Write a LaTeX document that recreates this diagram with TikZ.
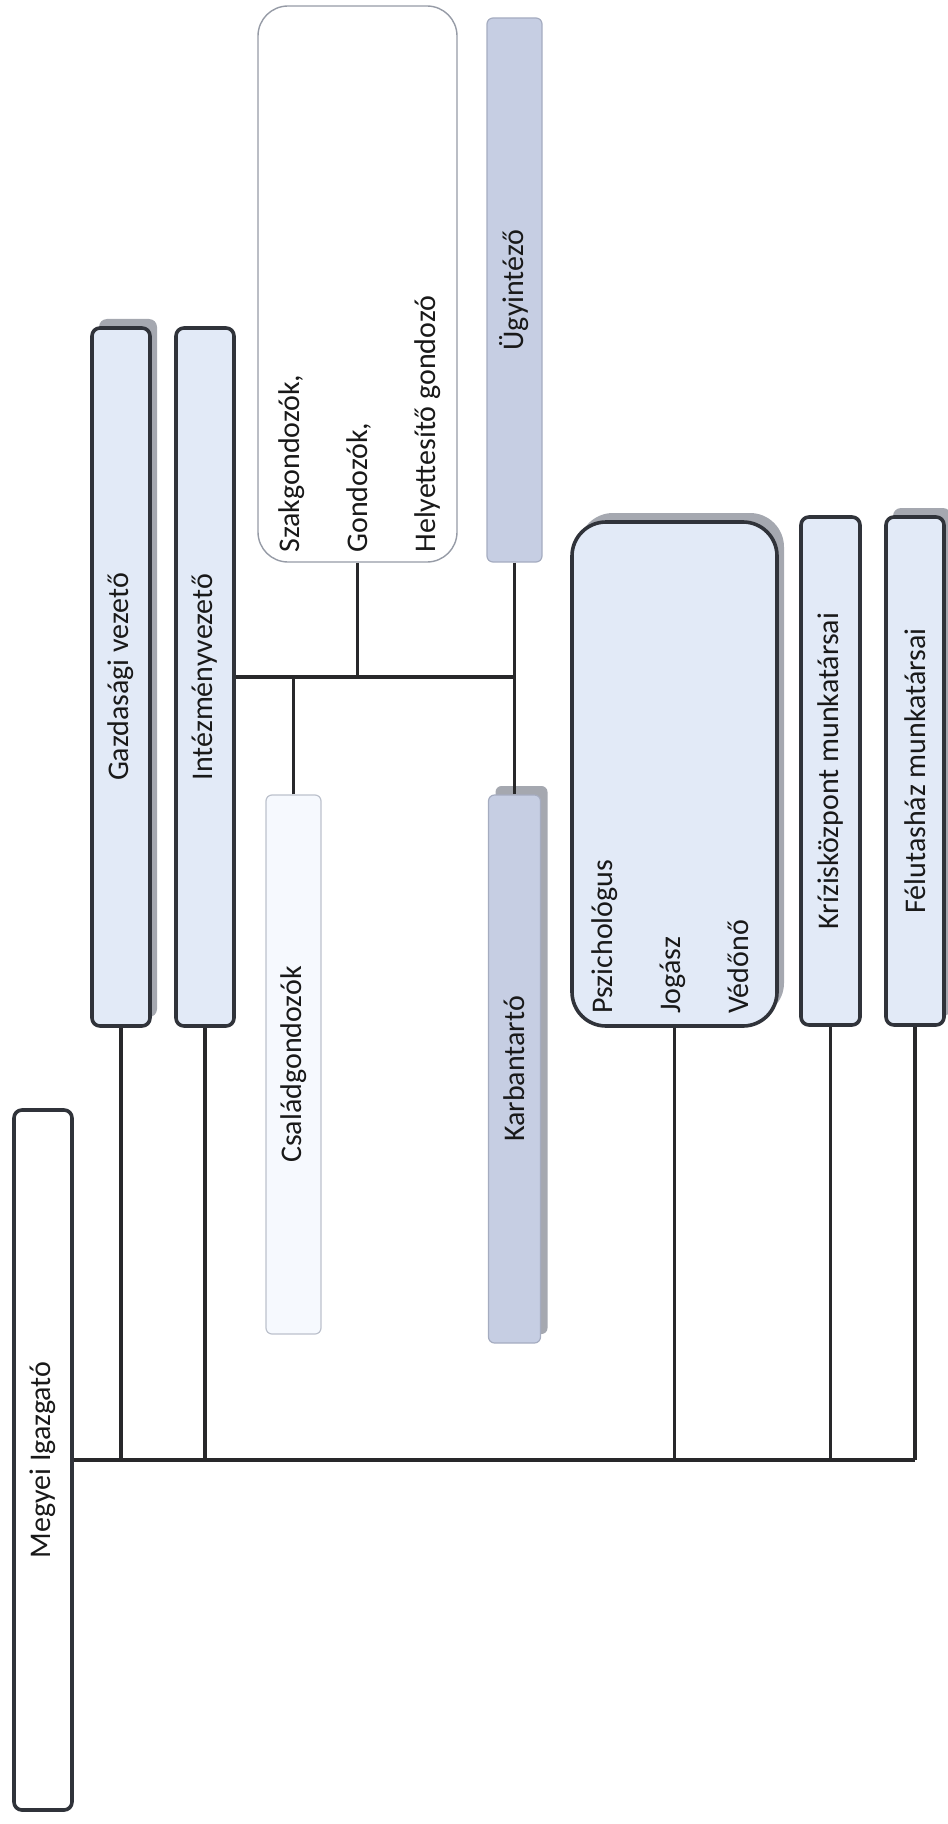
\documentclass[tikz,border=0pt]{standalone}
\usepackage{fontspec}
\setmainfont{Carlito}
\usepackage{xcolor}
\usetikzlibrary{shadows, calc}
\definecolor{boxline}{RGB}{48,51,58}
\definecolor{boxblue}{RGB}{226,234,247}
\definecolor{boxshade}{RGB}{165,168,176}
\definecolor{staffgrey}{RGB}{198,206,227}
\definecolor{staffline}{RGB}{165,172,192}
\definecolor{palefill}{RGB}{246,249,254}
\definecolor{paleline}{RGB}{188,193,204}
\definecolor{szakline}{RGB}{150,155,166}
\definecolor{linkcol}{RGB}{40,40,42}

\begin{document}
\begin{tikzpicture}[x=0.5pt,y=-0.5pt,
  lab/.style={font=\fontsize{15}{18}\selectfont, text=black!90},
  head/.style={lab, draw=boxline, line width=1.8pt, fill=boxblue, rounded corners=4pt, inner sep=0pt},
  shade/.style={drop shadow={shadow xshift=3.5pt, shadow yshift=4.5pt, fill=boxshade, opacity=1}},
  staff/.style={lab, draw=staffline, line width=0.6pt, fill=staffgrey, rounded corners=3pt, inner sep=0pt},
  pale/.style={lab, draw=paleline, line width=0.6pt, fill=palefill, rounded corners=3pt, inner sep=0pt},
  multi/.style={lab, font=\fontsize{15}{34}\selectfont, rotate=90, anchor=north west, align=left, inner sep=0pt},
  link/.style={draw=linkcol, line width=1.6pt}
]
\useasboundingbox (0,0) rectangle (947,1824);

\node[head, fill=white, minimum width=29pt, minimum height=350pt] (megyei) at (43,1460) {\rotatebox{90}{Megyei Igazgató}};
\node[head, shade, minimum width=29pt, minimum height=349pt] (gazd) at (121,677) {\rotatebox{90}{Gazdasági vezető}};
\node[head, minimum width=29pt, minimum height=349pt] (intez) at (205,677) {\rotatebox{90}{Intézményvezető}};

\node[draw=szakline, line width=0.7pt, fill=white, rounded corners=15pt, minimum width=99.5pt, minimum height=278pt] (szak) at (357.5,284) {};
\node[multi] (szaktxt) at (278,553) {Szakgondozók,\\Gondozók,\\Helyettesítő gondozó};
\node[staff, minimum width=27.5pt, minimum height=272pt] (ugy) at (514.5,290) {\rotatebox{90}{Ügyintéző}};
\node[pale, minimum width=27.5pt, minimum height=269.5pt] (csalad) at (293.5,1064.5) {\rotatebox{90}{Családgondozók}};
\node[staff, shade, minimum width=26pt, minimum height=274pt] (karb) at (514.5,1069) {\rotatebox{90}{Karbantartó}};

\node[head, shade, rounded corners=17pt, minimum width=102.5pt, minimum height=252pt] (pszich) at (674.5,774) {};
\node[multi] (pszichtxt) at (591,1014) {Pszichológus\\Jogász\\Védőnő};
\node[head, minimum width=29.5pt, minimum height=254pt] (kriz) at (830.5,771) {\rotatebox{90}{Krízisközpont munkatársai}};
\node[head, shade, minimum width=29pt, minimum height=254pt] (felut) at (915,771) {\rotatebox{90}{Félutasház munkatársai}};

% main line
\coordinate (busend) at (felut.south |- megyei.east);
\draw[link] (megyei.east) -- (busend);
\foreach \nd in {gazd,intez,pszich,kriz,felut}
  \draw[link] (\nd.south) -- (\nd.south |- megyei.east);

% under intezmenyvezeto
\draw[link] (intez.east) -- (ugy.south |- intez.east);
\draw[link] (szak.south) -- (szak.south |- intez.east);
\draw[link] (csalad.north) -- (csalad.north |- intez.east);
\draw[link] (ugy.south) -- (karb.north);
\end{tikzpicture}
\end{document}
